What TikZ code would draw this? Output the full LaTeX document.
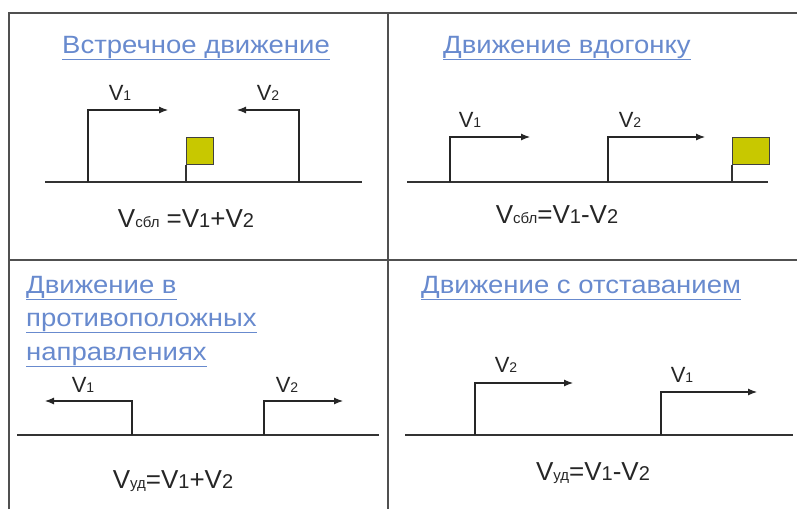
\documentclass[tikz,border=0pt]{standalone}
\usepackage{fontspec}
\setmainfont{Liberation Sans}
\newfontfamily\titlefont[FakeStretch=1.1]{Liberation Sans}
\usetikzlibrary{arrows.meta,positioning}
\definecolor{LinkBlue}{RGB}{104,138,206}
\definecolor{FlagY}{RGB}{200,200,0}
\definecolor{FrameG}{RGB}{80,80,80}
\newcommand{\lnk}[1]{\setbox0\hbox{#1}\rlap{\rule[-7pt]{\wd0}{1pt}}\box0}
\newcommand{\vsub}[1]{{\fontsize{14}{14}\selectfont #1}}
\newcommand{\fnum}[1]{{\fontsize{20}{20}\selectfont #1}}
\newcommand{\fwrd}[1]{{\fontsize{15}{15}\selectfont #1}}
\tikzset{
  frame/.style={draw=FrameG,line width=1.3pt},
  road/.style={draw=black!80,line width=1.2pt},
  vec/.style={-{Latex[length=9pt,width=7pt]},line width=1.1pt,black!85},
  title/.style={anchor=base west,inner sep=0pt,text=LinkBlue,
                font=\titlefont\fontsize{25}{25}\selectfont},
  vlab/.style={anchor=base,inner sep=0pt,text=black!85,
               font=\fontsize{22}{22}\selectfont},
  formula/.style={anchor=base,inner sep=0pt,text=black!85,
                  font=\fontsize{26}{26}\selectfont},
  flagbox/.style={draw=black!75,line width=1pt,fill=FlagY,anchor=north west,
                  minimum height=27pt,inner sep=0pt},
  flagpole/.style={line width=1.6pt,black!80},
}
\begin{document}
\begin{tikzpicture}[x=1pt,y=-1pt]
  \useasboundingbox (0,0) rectangle (797,509);
  \draw[frame] (9,509) -- (9,13) -- (797,13);
  \draw[frame] (9,260) -- (797,260);
  \draw[frame] (388,13) -- (388,509);

  % top left
  \node[title] (h1) at (62,53) {\lnk{Встречное движение}};
  \coordinate (g1a) at (45,182);  \coordinate (g1b) at (362,182);
  \coordinate (b11) at (88,182);  \coordinate (t11) at (168,110);
  \coordinate (b12) at (299,182); \coordinate (t12) at (237,110);
  \coordinate (p1) at (186,182);
  \draw[road] (g1a) -- (g1b);
  \draw[vec] (b11) |- (t11);
  \draw[vec] (b12) |- (t12);
  \node[flagbox,minimum width=27pt] (f1) at (186,137) {};
  \draw[flagpole] (p1) -- (f1.south west);
  \node[vlab] (v11) at (120,100) {V\vsub{1}};
  \node[vlab] (v12) at (268,100) {V\vsub{2}};
  \node[formula] (e1) at (186,227) {V\fwrd{сбл} =V\fnum{1}+V\fnum{2}};

  % top right
  \node[title] (h2) at (443,53) {\lnk{Движение вдогонку}};
  \coordinate (g2a) at (407,182); \coordinate (g2b) at (768,182);
  \coordinate (b21) at (450,182); \coordinate (t21) at (530,137);
  \coordinate (b22) at (608,182); \coordinate (t22) at (705,137);
  \coordinate (p2) at (732,182);
  \draw[road] (g2a) -- (g2b);
  \draw[vec] (b21) |- (t21);
  \draw[vec] (b22) |- (t22);
  \node[flagbox,minimum width=37pt] (f2) at (732,137) {};
  \draw[flagpole] (p2) -- (f2.south west);
  \node[vlab] (v21) at (470,127) {V\vsub{1}};
  \node[vlab] (v22) at (630,127) {V\vsub{2}};
  \node[formula] (e2) at (557,223) {V\fwrd{сбл}=V\fnum{1}-V\fnum{2}};

  % bottom left
  \node[title] (h3a) at (26,293) {\lnk{Движение в}};
  \node[title] (h3b) at (26,326) {\lnk{противоположных}};
  \node[title] (h3c) at (26,360) {\lnk{направлениях}};
  \coordinate (g3a) at (17,435);  \coordinate (g3b) at (379,435);
  \coordinate (b31) at (132,435); \coordinate (t31) at (45,401);
  \coordinate (b32) at (264,435); \coordinate (t32) at (343,401);
  \draw[road] (g3a) -- (g3b);
  \draw[vec] (b31) |- (t31);
  \draw[vec] (b32) |- (t32);
  \node[vlab] (v31) at (83,392) {V\vsub{1}};
  \node[vlab] (v32) at (287,392) {V\vsub{2}};
  \node[formula] (e3) at (173,488) {V\fwrd{уд}=V\fnum{1}+V\fnum{2}};

  % bottom right
  \node[title] (h4) at (421,293) {\lnk{Движение с отставанием}};
  \coordinate (g4a) at (405,435); \coordinate (g4b) at (793,435);
  \coordinate (b42) at (475,435); \coordinate (t42) at (573,383);
  \coordinate (b41) at (661,435); \coordinate (t41) at (757,392);
  \draw[road] (g4a) -- (g4b);
  \draw[vec] (b42) |- (t42);
  \draw[vec] (b41) |- (t41);
  \node[vlab] (v42) at (506,372) {V\vsub{2}};
  \node[vlab] (v41) at (682,382) {V\vsub{1}};
  \node[formula] (e4) at (593,480) {V\fwrd{уд}=V\fnum{1}-V\fnum{2}};
\end{tikzpicture}
\end{document}
